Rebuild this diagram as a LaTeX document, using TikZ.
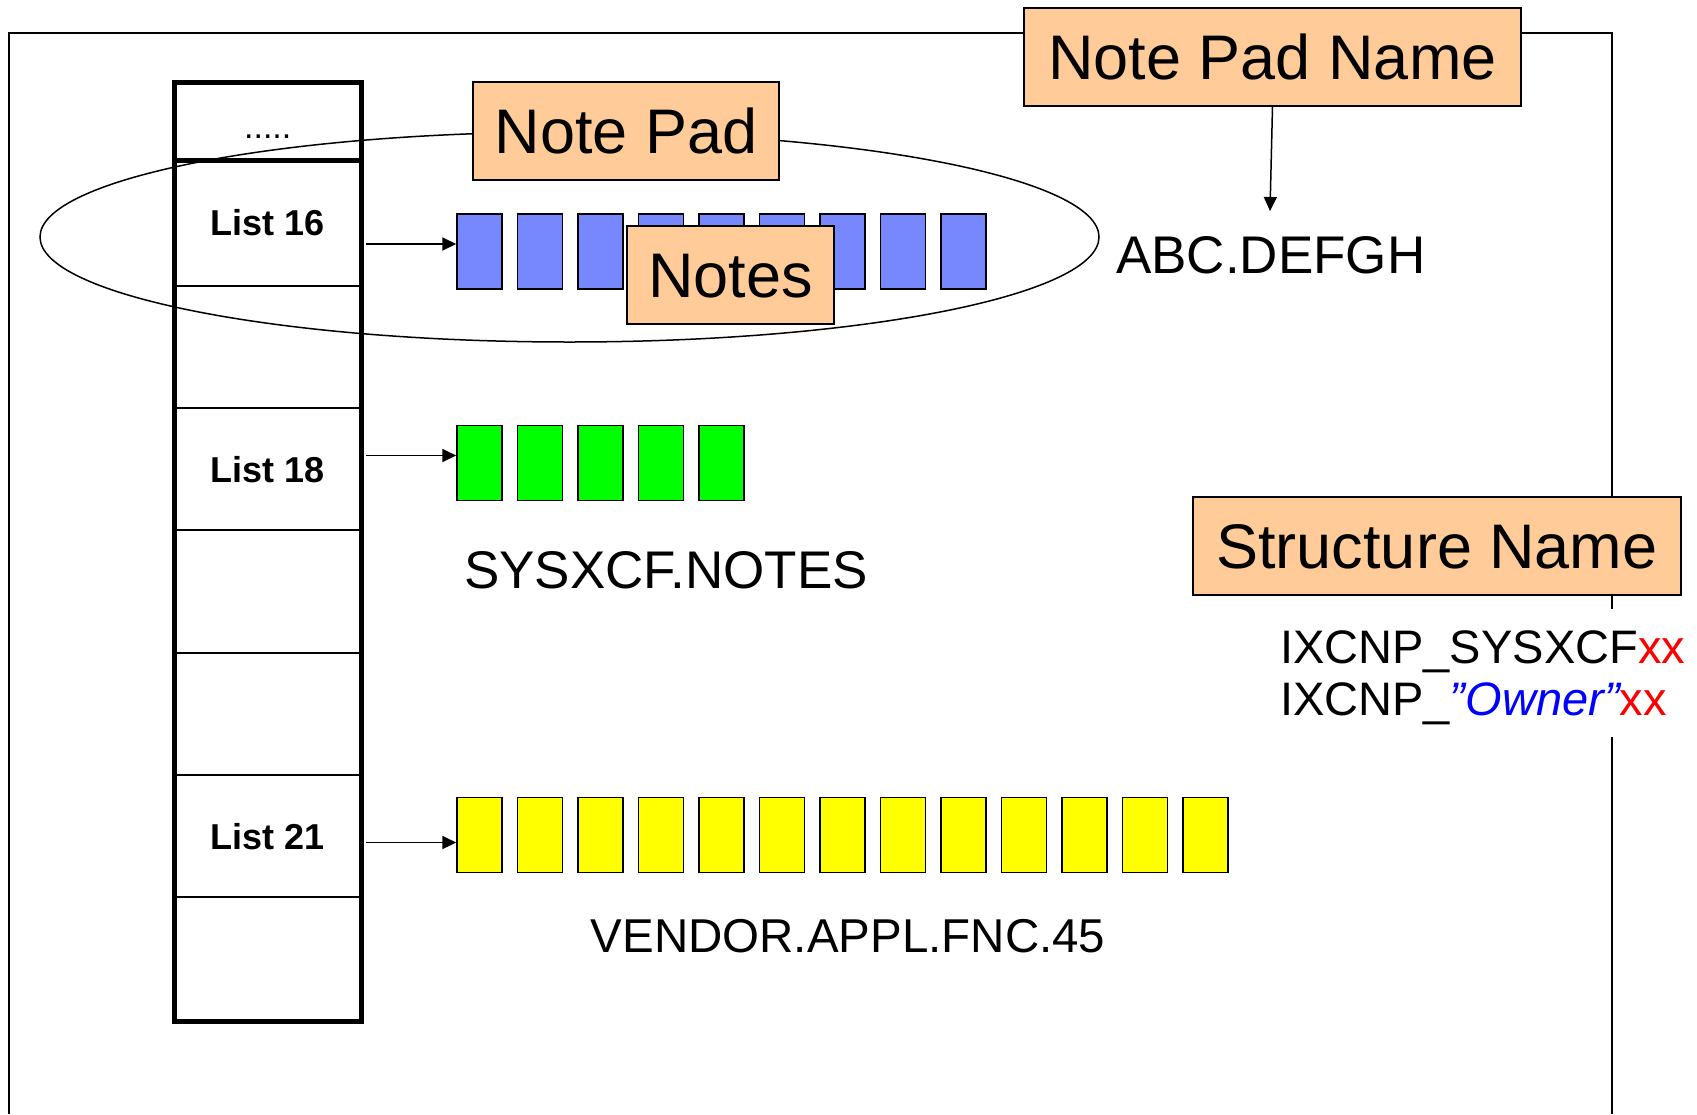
\documentclass[tikz,border=0pt]{standalone}
\usepackage{fontspec}
\setmainfont{Liberation Sans}
\usetikzlibrary{arrows.meta}
\definecolor{padorange}{HTML}{FFCC99}
\definecolor{noteblue}{HTML}{7788FF}
\definecolor{notegreen}{HTML}{00FF00}
\definecolor{noteyellow}{HTML}{FFFF00}
\begin{document}
\begin{tikzpicture}[x=1pt,y=-1pt,
  cellbox/.style={draw=black, line width=2.5pt, minimum width=184.5pt, inner sep=0pt,
    font=\bfseries\fontsize{36}{40}\selectfont, text height=26pt, text depth=0pt},
  slot/.style={draw=black, line width=1.5pt, minimum width=45pt, minimum height=75pt, inner sep=0pt},
  tag/.style={draw=black, line width=2pt, fill=padorange, inner sep=0pt, minimum height=98pt,
    font=\fontsize{63}{70}\selectfont, text height=45pt, text depth=0pt},
  arr/.style={line width=1.8pt, -{Triangle[length=14pt,width=13pt]}},
  plain/.style={inner sep=0pt, anchor=base},
  framel/.style={line width=1.5pt}]
\useasboundingbox[fill=white] (0,0) rectangle (1697,1114);
% frame
\draw[framel] (9,1114) -- (9,33) -- (1612,33) -- (1612,609);
\draw[framel] (1612,737) -- (1612,1114);
% column
\node[cellbox, minimum height=75.5pt, text height=34pt, font=\fontsize{34}{40}\selectfont] (c0) at (267.75,121.25) {.....};
\node[cellbox, minimum height=127pt] (c1) at (267.75,222.5) {List 16};
\node[cellbox, minimum height=122pt] (c2) at (267.75,347) {};
\node[cellbox, minimum height=122pt] (c3) at (267.75,469) {List 18};
\node[cellbox, minimum height=123pt] (c4) at (267.75,591.5) {};
\node[cellbox, minimum height=122pt] (c5) at (267.75,714) {};
\node[cellbox, minimum height=122pt] (c6) at (267.75,836) {List 21};
\node[cellbox, minimum height=123pt] (c7) at (267.75,958.5) {};
\draw[line width=4.5pt] (c0.north west) rectangle (c7.south east);
\draw[line width=4.5pt] (c0.south west) -- (c0.south east);
% note pad ellipse
\draw[line width=1.5pt] (569.5,237) ellipse [x radius=529.5pt, y radius=105pt];
% slots
\foreach \i in {0,...,8} \node[slot, fill=noteblue] (b\i) at ({479.5+60.5*\i},251.5) {};
\foreach \i in {0,...,4} \node[slot, fill=notegreen] (g\i) at ({479.5+60.5*\i},463) {};
\foreach \i in {0,...,12} \node[slot, fill=noteyellow] (y\i) at ({479.5+60.5*\i},835) {};
% arrows
\coordinate (a16) at (366,244);
\coordinate (a18) at (366,455.5);
\coordinate (a21) at (366,842.5);
\draw[arr] (a16) -- (a16 -| b0.west);
\draw[arr] (a18) -- (a18 -| g0.west);
\draw[arr] (a21) -- (a21 -| y0.west);
% tags
\node[tag, minimum width=306pt] (notepad) at (626,131) {Note Pad};
\node[tag, minimum width=207pt] (notes) at (730.5,275) {Notes};
\node[tag, minimum width=497pt] (npname) at (1272.5,56.5) {Note Pad Name};
\node[tag, minimum width=488pt] (struct) at (1437,546) {Structure Name};
% names
\node[plain, anchor=base west, font=\fontsize{53}{60}\selectfont] (abc) at (1116,273) {ABC.DEFGH};
\coordinate (abctop) at (1270,211);
\draw[arr, line width=1.5pt] (npname.south) -- (abctop);
\node[plain, font=\fontsize{53}{60}\selectfont] (sys) at (666,588) {SYSXCF.NOTES};
\node[plain, font=\fontsize{47.5}{55}\selectfont] (ven) at (848,952) {VENDOR.APPL.FNC.45};
\node[plain, anchor=base west, font=\fontsize{47}{52}\selectfont] (ix1) at (1280,663) {IXCNP\_SYSXCF\textcolor{red}{xx}};
\node[plain, anchor=base west, font=\fontsize{47}{52}\selectfont] (ix2) at (1280,715) {IXCNP\_\textcolor{blue}{\itshape ”Owner”}\textcolor{red}{xx}};
\end{tikzpicture}
\end{document}
